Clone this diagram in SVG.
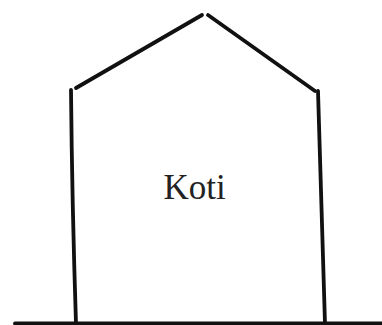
<svg xmlns="http://www.w3.org/2000/svg" width="382" height="325" viewBox="0 0 382 325">
<style>
.s{fill:none;stroke:#111;stroke-width:3.8;stroke-linecap:round;stroke-linejoin:round}
.t{font-family:"Liberation Serif","Times New Roman",serif;font-size:35px;fill:#222}
</style>
<rect width="382" height="325" fill="#fff"/>
<g id="house">
<path class="s" d="M76,88 L202,15"/>
<path class="s" d="M208,15 L315,91"/>
<path class="s" d="M71,90 Q72,200 76,324"/>
<path class="s" d="M318,91 Q321,200 325,324"/>
<path class="s" d="M15,323.5 L384,323.5"/>
<text class="t" x="194.5" y="199" text-anchor="middle">Koti</text>
</g>
</svg>
